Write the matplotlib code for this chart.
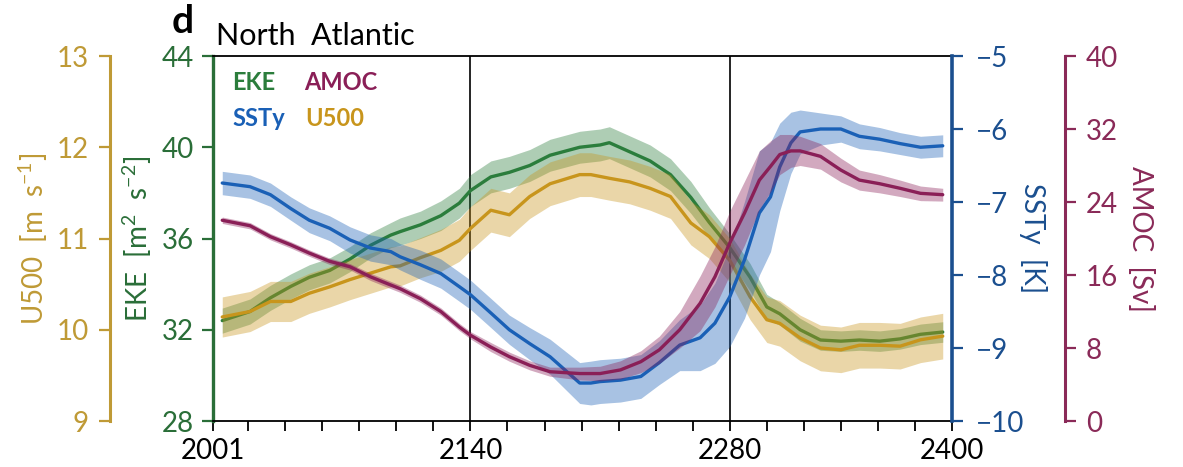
import matplotlib
matplotlib.use("Agg")
import matplotlib.pyplot as plt
import numpy as np

plt.rcParams["font.family"] = ["Lato", "DejaVu Sans"]
plt.rcParams["mathtext.fontset"] = "custom"
plt.rcParams["mathtext.rm"] = "Lato"
plt.rcParams["axes.unicode_minus"] = True

# ---------------- data (10-yr running means with ensemble spread) ----------------
eke_years = [2006, 2021, 2032, 2043, 2053, 2064, 2075, 2086, 2097, 2102, 2113, 2124, 2134,
             2140, 2151, 2161, 2172, 2183, 2199, 2210, 2215, 2226, 2237, 2248, 2259, 2269,
             2280, 2291, 2300, 2307, 2318, 2329, 2340, 2350, 2361, 2372, 2383, 2395]
eke_mean = [32.4, 32.8, 33.4, 33.9, 34.3, 34.6, 35.1, 35.7, 36.15, 36.3, 36.6, 37.0, 37.55,
            38.1, 38.7, 38.9, 39.2, 39.65, 40.0, 40.1, 40.2, 39.8, 39.4, 38.8, 37.8, 36.7,
            35.6, 34.3, 33.0, 32.7, 32.0, 31.55, 31.5, 31.55, 31.5, 31.6, 31.8, 31.9]
eke_spread = [0.55, 0.55, 0.55, 0.55, 0.55, 0.55, 0.55, 0.55, 0.55, 0.6, 0.6, 0.65, 0.65,
              0.7, 0.7, 0.7, 0.7, 0.7, 0.7, 0.7, 0.7, 0.7, 0.7, 0.7, 0.7, 0.65,
              0.6, 0.6, 0.55, 0.5, 0.5, 0.45, 0.45, 0.45, 0.45, 0.45, 0.45, 0.45]

u500_years = [2006, 2021, 2032, 2043, 2053, 2064, 2075, 2086, 2097, 2102, 2113, 2124, 2134,
              2140, 2151, 2161, 2172, 2183, 2199, 2205, 2215, 2226, 2237, 2248, 2259, 2269,
              2280, 2291, 2300, 2307, 2318, 2329, 2340, 2350, 2361, 2372, 2383, 2395]
u500_mean = [10.14, 10.2, 10.31, 10.31, 10.40, 10.47, 10.55, 10.62, 10.69, 10.70, 10.79, 10.87, 10.98,
             11.11, 11.31, 11.26, 11.46, 11.6, 11.7, 11.7, 11.66, 11.62, 11.55, 11.46, 11.17, 11.02,
             10.76, 10.36, 10.11, 10.07, 9.91, 9.80, 9.78, 9.83, 9.83, 9.82, 9.89, 9.93]
u500_spread = [0.22, 0.22, 0.22, 0.22, 0.22, 0.22, 0.22, 0.22, 0.22, 0.22, 0.22, 0.23, 0.23,
               0.24, 0.24, 0.24, 0.24, 0.24, 0.24, 0.24, 0.24, 0.24, 0.24, 0.24, 0.24, 0.24,
               0.24, 0.25, 0.25, 0.25, 0.25, 0.25, 0.25, 0.25, 0.25, 0.25, 0.25, 0.25]

ssty_years = [2006, 2021, 2032, 2043, 2053, 2064, 2075, 2086, 2097, 2102, 2113, 2124, 2134,
              2140, 2151, 2161, 2172, 2183, 2199, 2205, 2210, 2221, 2232, 2242, 2253, 2264,
              2272, 2280, 2288, 2296, 2302, 2307, 2313, 2318, 2329, 2340, 2350, 2361, 2372,
              2383, 2395]
ssty_mean = [-6.74, -6.79, -6.90, -7.09, -7.25, -7.36, -7.52, -7.63, -7.68, -7.75, -7.86, -7.98, -8.16,
             -8.27, -8.52, -8.75, -8.94, -9.12, -9.48, -9.48, -9.46, -9.44, -9.39, -9.20, -8.96, -8.86,
             -8.66, -8.30, -7.79, -7.15, -6.93, -6.52, -6.19, -6.04, -6.0, -6.0, -6.1, -6.14, -6.2,
             -6.25, -6.23]
ssty_spread = [0.16, 0.16, 0.16, 0.16, 0.17, 0.17, 0.18, 0.18, 0.18, 0.18, 0.2, 0.2, 0.2,
               0.2, 0.2, 0.2, 0.22, 0.24, 0.28, 0.3, 0.3, 0.3, 0.3, 0.3, 0.35, 0.45,
               0.55, 0.68, 0.8, 0.85, 0.75, 0.6, 0.42, 0.3, 0.22, 0.18, 0.17, 0.16, 0.15,
               0.15, 0.15]

amoc_years = [2006, 2021, 2032, 2043, 2053, 2064, 2075, 2086, 2097, 2102, 2113, 2124, 2134,
              2140, 2151, 2161, 2172, 2183, 2199, 2210, 2221, 2232, 2242, 2253, 2264, 2272,
              2280, 2288, 2296, 2302, 2307, 2313, 2318, 2329, 2340, 2350, 2361, 2372, 2383, 2395]
amoc_mean = [22.0, 21.4, 20.2, 19.3, 18.4, 17.5, 16.9, 15.8, 14.9, 14.5, 13.4, 12.0, 10.3,
             9.4, 8.1, 7.05, 6.1, 5.4, 5.2, 5.2, 5.6, 6.5, 7.8, 10.0, 12.9, 15.8,
             19.5, 22.8, 26.4, 27.9, 29.2, 29.6, 29.6, 29.0, 27.5, 26.4, 26.0, 25.5, 24.95, 24.8]
amoc_spread = [0.35, 0.35, 0.35, 0.35, 0.35, 0.35, 0.35, 0.4, 0.4, 0.4, 0.4, 0.4, 0.4,
               0.4, 0.5, 0.5, 0.5, 0.5, 0.7, 0.8, 1.0, 1.2, 1.5, 2.0, 3.0, 3.3,
               3.5, 3.5, 3.2, 2.8, 2.2, 1.8, 1.6, 1.4, 1.3, 1.1, 1.0, 0.9, 0.8, 0.7]

x_major = [2001, 2140, 2280, 2400]
x_minor = list(range(2020, 2400, 20))
eke_ticks = [28, 32, 36, 40, 44]
u500_ticks = [9, 10, 11, 12, 13]
ssty_ticks = [-10, -9, -8, -7, -6, -5]
amoc_ticks = [0, 8, 16, 24, 32, 40]
event_years = [2140, 2280]

# ---------------- styling ----------------
C_EKE, C_EKE_AX = "#2b7d3c", "#2a6e38"
C_U, C_U_AX = "#c8951c", "#bf9a36"
C_S, C_S_AX = "#1a60b6", "#1b4f8f"
C_A, C_A_AX = "#8a1f57", "#8a2a58"
FS = 20

fig = plt.figure(figsize=(11.83, 4.67), dpi=100)
ax = fig.add_axes([0.18005, 0.0985, 0.62468, 0.78158])


def draw(axis, yrs, mean, spread, color):
    m = np.asarray(mean)
    s = np.asarray(spread)
    axis.fill_between(yrs, m - s, m + s, color=color, alpha=0.38, lw=0)
    axis.plot(yrs, m, color=color, lw=2.4, solid_capstyle="round")


for yr in event_years:
    ax.axvline(yr, color="black", lw=1.2, zorder=0.5)

# EKE on the main axis
draw(ax, eke_years, eke_mean, eke_spread, C_EKE)
ax.set_xlim(2001, 2400)
ax.set_ylim(28, 44)
ax.set_xticks(x_major)
ax.set_xticks(x_minor, minor=True)
ax.set_yticks(eke_ticks)
ax.tick_params(axis="x", which="both", length=7, width=1.3, direction="out",
               pad=5, labelsize=FS, colors="black", top=False)
ax.tick_params(axis="y", length=8, width=1.6, direction="out", pad=6,
               labelsize=FS, colors=C_EKE_AX)
ax.spines["left"].set_color(C_EKE_AX)
ax.spines["left"].set_linewidth(2.4)
ax.spines["right"].set_visible(False)
ax.spines["top"].set_linewidth(1.3)
ax.spines["bottom"].set_linewidth(1.3)


def twin(side, pos, color):
    t = ax.twinx()
    for s in ["left", "right", "top", "bottom"]:
        t.spines[s].set_visible(False)
    t.spines[side].set_visible(True)
    t.spines[side].set_position(("axes", pos))
    t.spines[side].set_color(color)
    t.spines[side].set_linewidth(2.2)
    if side == "left":
        t.yaxis.set_ticks_position("left")
    else:
        t.yaxis.set_ticks_position("right")
    t.tick_params(axis="y", length=8, width=1.6, direction="out", pad=7,
                  labelsize=FS, colors=color)
    return t


ax_u = twin("left", -0.140, C_U_AX)
draw(ax_u, u500_years, u500_mean, u500_spread, C_U)
ax_u.set_ylim(9, 13)
ax_u.set_yticks(u500_ticks)

ax_s = twin("right", 1.0, C_S_AX)
ax_s.spines["right"].set_linewidth(2.6)
draw(ax_s, ssty_years, ssty_mean, ssty_spread, C_S)
ax_s.set_ylim(-10, -5)
ax_s.set_yticks(ssty_ticks)
ax_s.tick_params(axis="y", pad=9)

ax_a = twin("right", 1.153, C_A_AX)
draw(ax_a, amoc_years, amoc_mean, amoc_spread, C_A)
ax_a.set_ylim(0, 40)
ax_a.set_yticks(amoc_ticks)

# axis titles
W, H = 1183.0, 467.0
yc = 1 - 238.5 / H
fig.text(33 / W, yc, "U500  [m  s$^{-1}$]", rotation=90, ha="center", va="center",
         color=C_U_AX, fontsize=FS)
fig.text(137 / W, yc, "EKE  [m$^{2}$  s$^{-2}$]", rotation=90, ha="center", va="center",
         color=C_EKE_AX, fontsize=FS)
fig.text(1033 / W, yc, "SSTy  [K]", rotation=270, ha="center", va="center",
         color=C_S_AX, fontsize=FS)
fig.text(1140 / W, yc, "AMOC  [Sv]", rotation=270, ha="center", va="center",
         color=C_A_AX, fontsize=FS)

# in-panel legend
fig.text(232 / W, 1 - 83 / H, "EKE", color=C_EKE, fontsize=17, fontweight="bold", va="center")
fig.text(304 / W, 1 - 83 / H, "AMOC", color=C_A, fontsize=17, fontweight="bold", va="center")
fig.text(232 / W, 1 - 119 / H, "SSTy", color=C_S, fontsize=17, fontweight="bold", va="center")
fig.text(305 / W, 1 - 119 / H, "U500", color=C_U, fontsize=17, fontweight="bold", va="center")

# panel tag and title
fig.text(172 / W, 1 - 33 / H, "d", fontsize=28, fontweight="bold", va="baseline")
fig.text(216 / W, 1 - 45 / H, "North  Atlantic", fontsize=22, va="baseline")

fig.savefig("out.png", dpi=100)
